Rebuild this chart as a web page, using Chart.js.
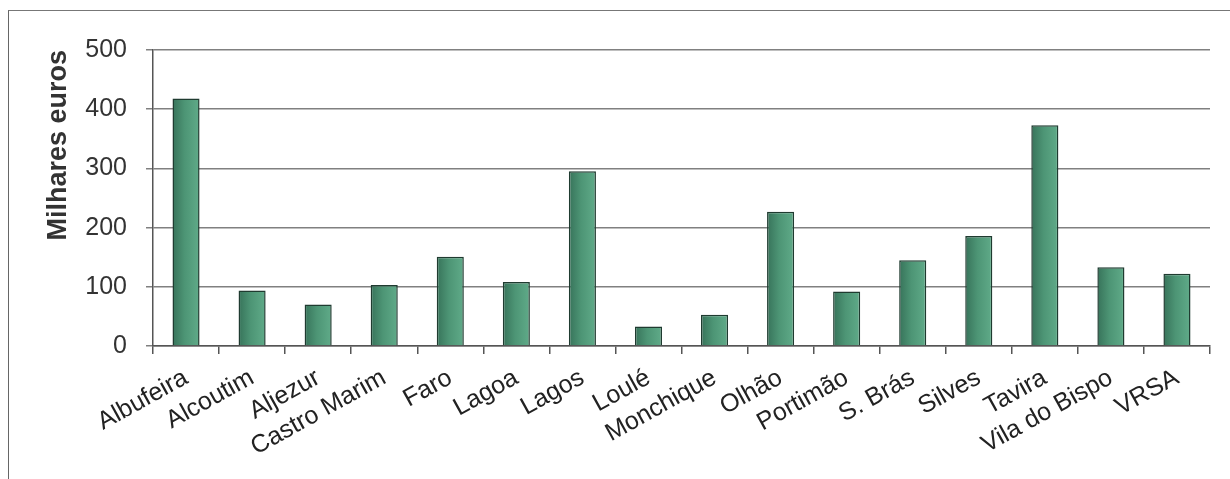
<!DOCTYPE html>
<html>
<head>
<meta charset="utf-8">
<script src="https://cdn.jsdelivr.net/npm/chart.js@4/dist/chart.umd.min.js"></script>
<style>
  body { margin: 0; background: #fff; }
  #frame { position: absolute; left: 8px; top: 10px; width: 1240px; height: 480px;
           border-left: 1.5px solid #666; border-top: 1.5px solid #777; }
  #chart { position: absolute; left: 0; top: 0; }
</style>
</head>
<body>
<div id="frame"></div>
<canvas id="chart" width="1230" height="479"></canvas>
<script>
var municipios = ['Albufeira', 'Alcoutim', 'Aljezur', 'Castro Marim', 'Faro', 'Lagoa', 'Lagos', 'Loulé',
    'Monchique', 'Olhão', 'Portimão', 'S. Brás', 'Silves', 'Tavira', 'Vila do Bispo', 'VRSA'];
var valores = [418, 94, 70, 103, 151, 108, 295, 33, 53, 227, 92, 145, 186, 373, 133, 122];
var yTicks = [0, 100, 200, 300, 400, 500];

// gradient per bar, dark on the left, lighter to the right
function barFill(ctx) {
    var chart = ctx.chart;
    var x = chart.scales.x;
    if (!chart.chartArea || !x) return '#4a9272';
    var cx = x.getPixelForValue(ctx.dataIndex);
    var half = x.width / municipios.length * 0.41 / 2;
    var g = chart.ctx.createLinearGradient(cx - half, 0, cx + half, 0);
    g.addColorStop(0, '#37735a');
    g.addColorStop(0.45, '#4d9575');
    g.addColorStop(1, '#60ab89');
    return g;
}

var ctx = document.getElementById('chart').getContext('2d');
var chart = new Chart(ctx, {
    type: 'bar',
    data: {
        labels: municipios,
        datasets: [{
            data: valores,
            backgroundColor: barFill,
            borderColor: '#1f3b30',
            borderWidth: 1.5,
            barPercentage: 0.41,
            categoryPercentage: 1.0
        }]
    },
    options: {
        responsive: false,
        animation: false,
        layout: { padding: { left: 8, right: 20, top: 50, bottom: 8 } },
        plugins: {
            legend: { display: false },
            tooltip: { enabled: false }
        },
        scales: {
            x: {
                grid: { drawOnChartArea: false, drawTicks: true, tickLength: 8, color: '#555', lineWidth: 1.5 },
                border: { color: '#555', width: 1.5 },
                ticks: {
                    maxRotation: 29, minRotation: 29, autoSkip: false, padding: 9,
                    color: '#222', font: { family: 'Liberation Sans, Arial', size: 25 }
                }
            },
            y: {
                min: 0, max: 500,
                afterBuildTicks: function (axis) {
                    axis.ticks = yTicks.map(function (v) { return { value: v }; });
                },
                afterFit: function (axis) { axis.width = 145; },
                grid: { color: '#808080', lineWidth: 1.5, tickLength: 7 },
                border: { color: '#555', width: 1.5 },
                ticks: {
                    padding: 19, color: '#333',
                    font: { family: 'Liberation Sans, Arial', size: 25 }
                },
                title: {
                    display: true, text: 'Milhares euros', align: 'end',
                    color: '#333', padding: { top: 34, bottom: 0 },
                    font: { family: 'Liberation Sans, Arial', size: 27, weight: 'bold' }
                }
            }
        }
    }
});
</script>
</body>
</html>
